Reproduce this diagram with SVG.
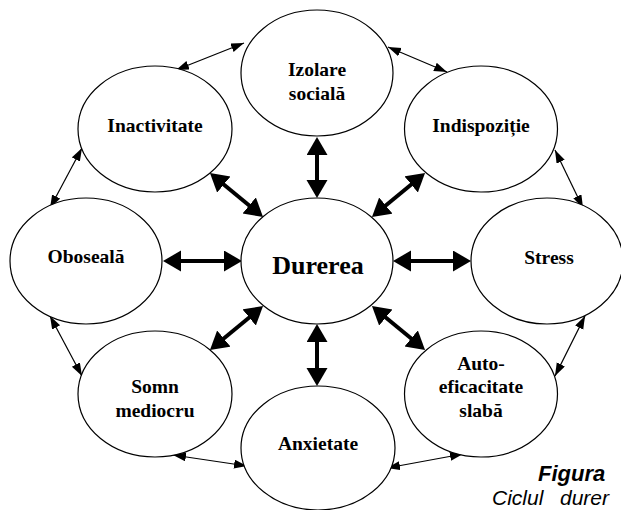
<svg xmlns="http://www.w3.org/2000/svg" width="621" height="510" viewBox="0 0 621 510">
<style>
.n ellipse{fill:#fff;stroke:#000;stroke-width:1.2}
.n text{font-family:"Liberation Serif","Times New Roman","DejaVu Serif",serif;font-weight:bold;font-size:19.5px;fill:#000;text-anchor:middle}
.thin{stroke:#000;stroke-width:1.2;fill:none;marker-start:url(#ah);marker-end:url(#ah)}
.thick{stroke:#000;stroke-width:4;fill:none;marker-start:url(#AH);marker-end:url(#AH)}
.cap{font-family:"Liberation Sans",Arial,sans-serif;font-style:italic;fill:#000}
</style>
<defs>
<marker id="ah" markerUnits="userSpaceOnUse" markerWidth="14" markerHeight="10" refX="13" refY="4.5" orient="auto-start-reverse" viewBox="0 0 14 10"><path d="M0,0 L13,4.5 L0,9 z" fill="#000"/></marker>
<marker id="AH" markerUnits="userSpaceOnUse" markerWidth="20" markerHeight="22" refX="6" refY="10.5" orient="auto-start-reverse" viewBox="0 0 20 22"><path d="M0,0 L18,10.5 L0,21 z" fill="#000"/></marker>
</defs>
<g id="connectors">
<line class="thin" x1="176" y1="70" x2="244" y2="43"/>
<line class="thin" x1="388" y1="47" x2="447" y2="72"/>
<line class="thin" x1="555" y1="150" x2="583" y2="208"/>
<line class="thin" x1="585" y1="316" x2="555" y2="376"/>
<line class="thin" x1="463" y1="454" x2="387" y2="468"/>
<line class="thin" x1="247" y1="466" x2="173" y2="455"/>
<line class="thin" x1="82" y1="376" x2="50" y2="316"/>
<line class="thin" x1="82" y1="148" x2="50" y2="208"/>
<line class="thick" x1="317" y1="149" x2="317" y2="186"/>
<line class="thick" x1="317" y1="336" x2="317" y2="374"/>
<line class="thick" x1="175" y1="261" x2="230" y2="261"/>
<line class="thick" x1="405" y1="261" x2="459" y2="261"/>
<line class="thick" x1="219.2" y1="180.7" x2="253.8" y2="209.3"/>
<line class="thick" x1="415.8" y1="180.7" x2="381.2" y2="209.3"/>
<line class="thick" x1="219.2" y1="342.3" x2="253.8" y2="313.7"/>
<line class="thick" x1="381.2" y1="313.7" x2="415.8" y2="342.3"/>
</g>
<g id="izolare" class="n"><ellipse cx="317" cy="73" rx="76" ry="63"/><text x="317" y="76">Izolare</text><text x="317" y="100">socială</text></g>
<g id="inactivitate" class="n"><ellipse cx="155" cy="129" rx="77" ry="63"/><text x="155" y="132">Inactivitate</text></g>
<g id="indispozitie" class="n"><ellipse cx="481" cy="129" rx="76.5" ry="63"/><text x="481" y="132">Indispoziție</text></g>
<g id="oboseala" class="n"><ellipse cx="86" cy="261" rx="76" ry="63"/><text x="86" y="263">Oboseală</text></g>
<g id="durerea" class="n"><ellipse cx="317" cy="261" rx="76" ry="63"/><text x="318" y="274" style="font-size:26px">Durerea</text></g>
<g id="stress" class="n"><ellipse cx="547" cy="261" rx="76" ry="63"/><text x="549" y="264">Stress</text></g>
<g id="somn" class="n"><ellipse cx="155" cy="394" rx="77" ry="63"/><text x="155" y="393">Somn</text><text x="155" y="417">mediocru</text></g>
<g id="autoeficacitate" class="n"><ellipse cx="481" cy="394" rx="76.5" ry="63"/><text x="481" y="370">Auto-</text><text x="481" y="393">eficacitate</text><text x="481" y="417">slabă</text></g>
<g id="anxietate" class="n"><ellipse cx="318" cy="448" rx="77" ry="62"/><text x="318" y="450">Anxietate</text></g>
<g id="caption">
<text class="cap" x="538" y="481" style="font-weight:bold;font-size:22px">Figura</text>
<text class="cap" x="492" y="505" style="font-size:21px">Ciclul<tspan x="560">durer</tspan></text>
</g>
</svg>
